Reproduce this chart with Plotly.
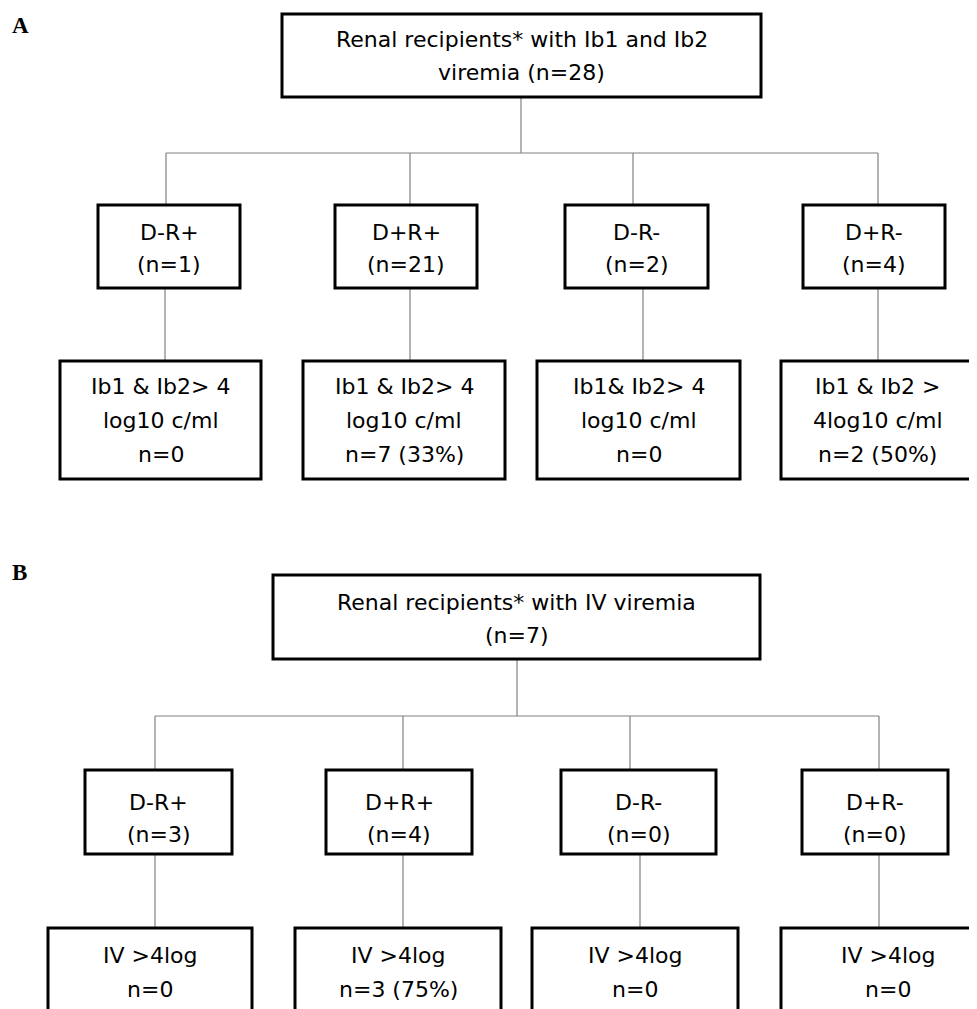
import plotly.graph_objects as go

# data
groups = ['D-R+', 'D+R+', 'D-R-', 'D+R-']

a_title = ['Renal recipients* with Ib1 and Ib2', 'viremia (n=28)']
a_counts = [1, 21, 2, 4]
a_high = ['n=0', 'n=7 (33%)', 'n=0', 'n=2 (50%)']
a_crit = [['Ib1 & Ib2> 4', 'log10 c/ml'],
          ['Ib1 & Ib2> 4', 'log10 c/ml'],
          ['Ib1& Ib2> 4', 'log10 c/ml'],
          ['Ib1 & Ib2 >', '4log10 c/ml']]

b_title = ['Renal recipients* with IV viremia', '(n=7)']
b_counts = [3, 4, 0, 0]
b_high = ['n=0', 'n=3 (75%)', 'n=0', 'n=0']
b_crit = [['IV >4log'], ['IV >4log'], ['IV >4log'], ['IV >4log']]

W, H = 977, 1009
OFF = 8  # page margin of the html body
FONT = 'DejaVu Sans, Liberation Sans, sans-serif'
LINE = '#808080'

fig = go.Figure()


def box(x0, y0, x1, y1):
    fig.add_shape(type='rect', x0=x0, x1=x1, y0=y0, y1=y1, xref='x', yref='y',
                  line=dict(color='black', width=3), fillcolor='white', layer='above')


def connector(x0, y0, x1, y1):
    fig.add_shape(type='line', x0=x0, x1=x1, y0=y0, y1=y1, xref='x', yref='y',
                  line=dict(color=LINE, width=1.2), layer='below')


def lines_text(cx, first_y, rows, gap):
    for i, r in enumerate(rows):
        fig.add_annotation(x=cx, y=first_y + i * gap, text=r, showarrow=False,
                           xref='x', yref='y', xanchor='center', yanchor='middle',
                           font=dict(family=FONT, size=22, color='black'))


def panel(letter, ly, title, title_box, trunk_x, trunk_y, mid_boxes, mid_y,
          bot_boxes, bot_y, drop_x, low_x, counts, crit, high, title_first, mid_first, bot_first):
    fig.add_annotation(x=10, y=ly, text='<b>' + letter + '</b>', showarrow=False,
                       xref='x', yref='y', xanchor='left', yanchor='middle',
                       font=dict(family='Liberation Serif, Times New Roman, serif',
                                 size=23, color='black'))
    tx0, ty0, tx1, ty1 = title_box
    box(tx0, ty0, tx1, ty1)
    lines_text((tx0 + tx1) / 2, title_first, title, 33)
    connector(trunk_x, ty1, trunk_x, trunk_y)
    connector(drop_x[0], trunk_y, drop_x[-1], trunk_y)
    for i in range(4):
        connector(drop_x[i], trunk_y, drop_x[i], mid_y[0])
        connector(low_x[i], mid_y[1], low_x[i], bot_y[0])
        mx0, mx1 = mid_boxes[i]
        box(mx0, mid_y[0], mx1, mid_y[1])
        lines_text((mx0 + mx1) / 2, mid_first, [groups[i], f'(n={counts[i]})'], 32)
        bx0, bx1 = bot_boxes[i]
        box(bx0, bot_y[0], bx1, bot_y[1])
        lines_text((bx0 + bx1) / 2, bot_first, crit[i] + [high[i]], 34)


panel('A', 25, a_title, (282, 14, 761, 97), 521, 153,
      [(98, 240), (335, 477), (565, 708), (803, 945)], (205, 288),
      [(60, 261), (303, 505), (537, 740), (781, 974)], (361, 479),
      [166, 410, 633, 878], [165, 410, 643, 878], a_counts, a_crit, a_high,
      39, 232, 386)

panel('B', 572, b_title, (273, 575, 760, 659), 517, 716,
      [(85, 232), (326, 472), (561, 716), (802, 948)], (770, 854),
      [(48, 252), (295, 501), (532, 738), (781, 995)], (928, 1040),
      [155, 403, 630, 879], [155, 403, 640, 879], b_counts, b_crit, b_high,
      602, 802, 955)

fig.update_layout(
    width=W - OFF, height=H - OFF,
    margin=dict(l=0, r=0, t=0, b=0),
    paper_bgcolor='white', plot_bgcolor='white',
    showlegend=False,
    xaxis=dict(range=[OFF, W], visible=False, fixedrange=True),
    yaxis=dict(range=[H, OFF], visible=False, fixedrange=True),
)

fig.write_html('out.html')
